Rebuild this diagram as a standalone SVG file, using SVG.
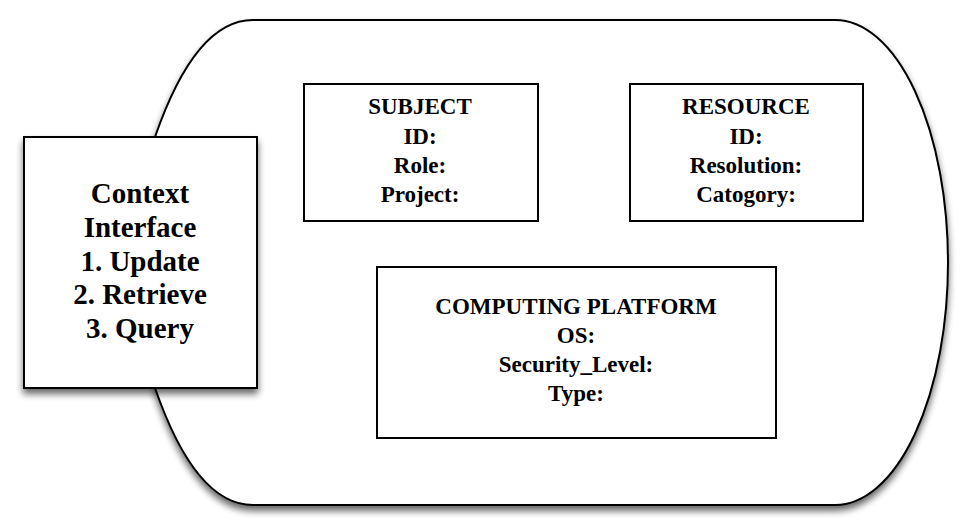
<svg xmlns="http://www.w3.org/2000/svg" width="971" height="530" viewBox="0 0 971 530">
<defs>
<filter id="sh" x="-10%" y="-10%" width="125%" height="130%">
<feGaussianBlur in="SourceAlpha" stdDeviation="3.5"/>
<feOffset dx="0" dy="5" result="b"/>
<feComponentTransfer><feFuncA type="linear" slope="0.6"/></feComponentTransfer>
<feMerge><feMergeNode/><feMergeNode in="SourceGraphic"/></feMerge>
</filter>
</defs>
<style>
.shape{fill:#fff;stroke:#000;stroke-width:2}
.t{font-family:'Liberation Serif','DejaVu Serif',serif;font-weight:bold;fill:#000;text-anchor:middle}
.big{font-size:29px}
.mid{font-size:23px}
</style>
<rect width="971" height="530" fill="#fff"/>
<g id="container">
<path class="shape" filter="url(#sh)" d="M 253,20 L 835,20 A 113,242.5 0 0 1 835,505 L 253,505 C 212,505 180,460 155,388 L 150,262 L 155,137 C 180,65 212,20 253,20 Z"/>
</g>
<g id="context" font-family="Liberation Serif, serif">
<rect class="shape" filter="url(#sh)" x="24" y="137" width="233" height="251"/>
<text class="t big" x="140" y="203">Context</text>
<text class="t big" x="140" y="237">Interface</text>
<text class="t big" x="140" y="270.5">1. Update</text>
<text class="t big" x="140" y="304">2. Retrieve</text>
<text class="t big" x="140" y="338">3. Query</text>
</g>
<g id="subject">
<rect class="shape" x="304" y="84" width="234" height="137"/>
<text class="t mid" x="420" y="114">SUBJECT</text>
<text class="t mid" x="420" y="143.5">ID:</text>
<text class="t mid" x="420" y="172.5">Role:</text>
<text class="t mid" x="420" y="201.5">Project:</text>
</g>
<g id="resource">
<rect class="shape" x="630" y="84" width="233" height="137"/>
<text class="t mid" x="746" y="114">RESOURCE</text>
<text class="t mid" x="746" y="143.5">ID:</text>
<text class="t mid" x="746" y="172.5">Resolution:</text>
<text class="t mid" x="746" y="201.5">Catogory:</text>
</g>
<g id="platform">
<rect class="shape" x="377" y="267" width="399" height="171"/>
<text class="t mid" x="576" y="314">COMPUTING PLATFORM</text>
<text class="t mid" x="576" y="343">OS:</text>
<text class="t mid" x="576" y="372">Security_Level:</text>
<text class="t mid" x="576" y="401">Type:</text>
</g>
<g id="connectors"></g>
</svg>
